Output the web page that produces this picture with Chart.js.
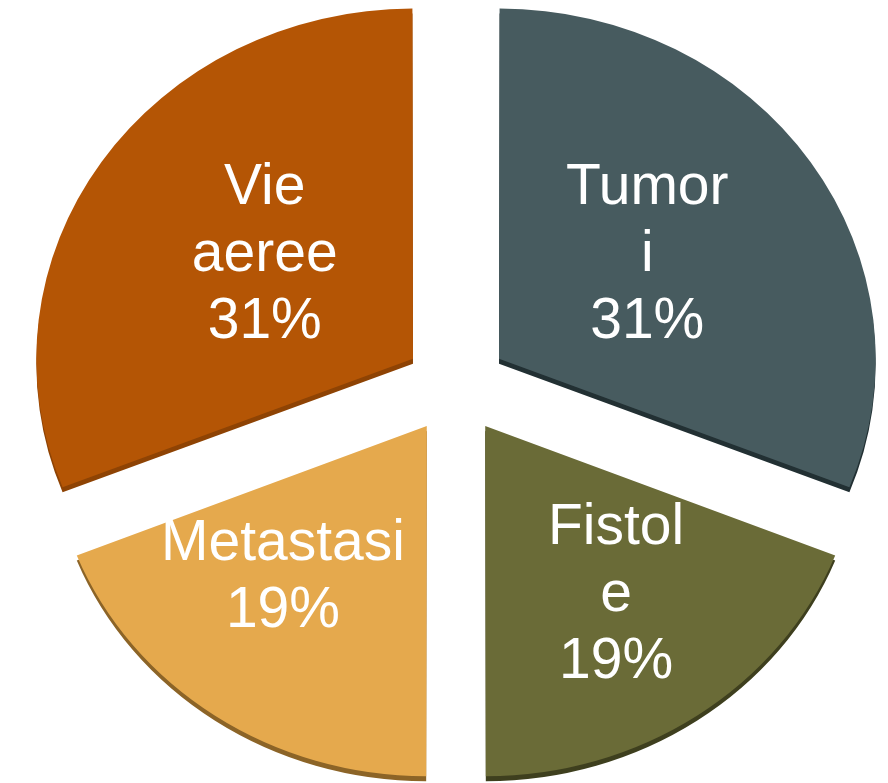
<!DOCTYPE html>
<html>
<head>
<meta charset="utf-8">
<script src="https://cdn.jsdelivr.net/npm/chart.js@4/dist/chart.umd.min.js"></script>
<style>
  html, body { margin: 0; padding: 0; background: #fff; }
  #wrap { width: 888px; height: 783px; }
</style>
</head>
<body>
<div id="wrap"><canvas id="pieChart"></canvas></div>
<script>
// slice names, wrapped the way they show in the slide
const categories = [['Tumor', 'i'], ['Fistol', 'e'], ['Metastasi'], ['Vie', 'aeree']];
// percent of cases
const shares = [31, 19, 19, 31];

const sliceColors = ['#475B5F', '#6A6B37', '#E5A94D', '#B45505'];
const sideColors = ['#223033', '#3E3F1E', '#8C6427', '#8E4304'];

const squash = 0.93;    // pie is seen a little from above
const depth = 5;        // thickness of the 3d edge

function squashCtx(chart, ctx) {
  const cy = (chart.chartArea.top + chart.chartArea.bottom) / 2;
  ctx.translate(0, cy);
  ctx.scale(1, squash);
  ctx.translate(0, -cy);
}

const tiltPlugin = {
  id: 'tilt',
  beforeDatasetsDraw(chart) {
    const ctx = chart.ctx;
    const arcs = chart.getDatasetMeta(0).data;
    // dark copy of each slice, pushed down, to fake the side
    arcs.forEach(function (arc, i) {
      const orig = arc.options;
      arc.options = Object.assign({}, orig, { backgroundColor: sideColors[i], borderColor: sideColors[i] });
      ctx.save();
      ctx.translate(0, depth);
      squashCtx(chart, ctx);
      arc.draw(ctx);
      ctx.restore();
      arc.options = orig;
    });
    ctx.save();
    squashCtx(chart, ctx);
  },
  afterDatasetsDraw(chart) {
    chart.ctx.restore();
  }
};

const labelPlugin = {
  id: 'sliceLabels',
  afterDraw(chart, args, opts) {
    const ctx = chart.ctx;
    const cy = (chart.chartArea.top + chart.chartArea.bottom) / 2;
    const data = chart.data.datasets[0].data;
    const total = data.reduce((a, b) => a + b, 0);
    ctx.save();
    ctx.fillStyle = '#fff';
    ctx.font = opts.size + 'px "Liberation Sans", Arial, sans-serif';
    ctx.textAlign = 'center';
    ctx.textBaseline = 'middle';
    chart.getDatasetMeta(0).data.forEach(function (arc, i) {
      const mid = (arc.startAngle + arc.endAngle) / 2;
      const r = (arc.options.offset || 0) / 4 + arc.outerRadius * opts.at;
      const nudge = opts.nudge[i] || [0, 0];
      const x = arc.x + Math.cos(mid) * r + nudge[0];
      const y = cy + (arc.y - cy + Math.sin(mid) * r) * squash + nudge[1];
      const lines = [].concat(chart.data.labels[i], Math.round(data[i] / total * 100) + '%');
      const top = y - (lines.length - 1) * opts.lineHeight / 2;
      lines.forEach(function (t, j) {
        ctx.fillText(t, x, top + j * opts.lineHeight);
      });
    });
    ctx.restore();
  }
};

new Chart(document.getElementById('pieChart'), {
  type: 'pie',
  data: {
    labels: categories,
    datasets: [{
      data: shares,
      backgroundColor: sliceColors,
      borderWidth: 0,
      offset: 208,
      hoverOffset: 208,
      clip: false
    }]
  },
  options: {
    responsive: true,
    maintainAspectRatio: false,
    animation: false,
    radius: 373,
    layout: { padding: { left: 24, bottom: 11 } },
    events: [],
    plugins: {
      legend: { display: false },
      tooltip: { enabled: false },
      sliceLabels: { size: 57, lineHeight: 67, at: 0.5, nudge: [[-6, -6], [26, 26], [-39, 8], [6, -6]] }
    }
  },
  plugins: [tiltPlugin, labelPlugin]
});
</script>
</body>
</html>
